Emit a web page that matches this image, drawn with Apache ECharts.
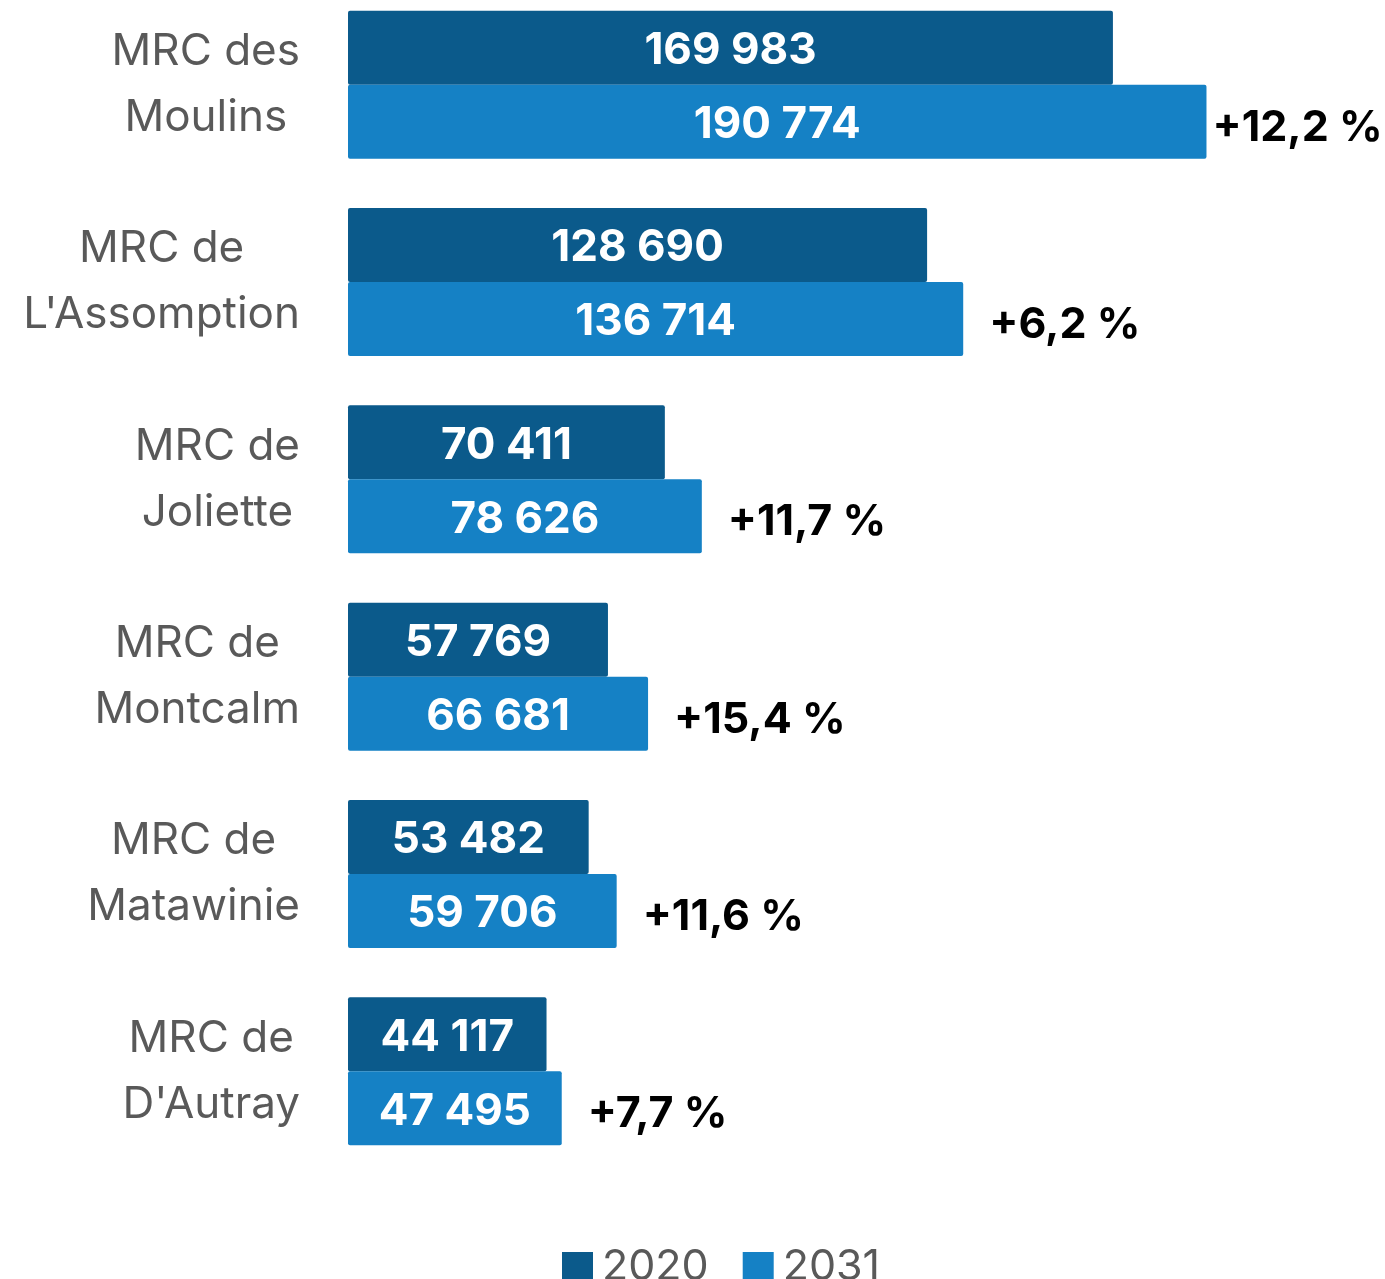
<!DOCTYPE html>
<html>
<head>
<meta charset="utf-8">
<script src="https://cdn.jsdelivr.net/npm/echarts@6/dist/echarts.min.js"></script>
<style>
    html, body { margin: 0; padding: 0; background: #fff; }
    #bargraph { width: 1385px; height: 1279px; }
</style>
</head>
<body>
<div id="bargraph"></div>
<script>
let regions = ['MRC des\nMoulins', 'MRC de\nL\'Assomption', 'MRC de\nJoliette', 'MRC de\nMontcalm', 'MRC de\nMatawinie', 'MRC de\nD\'Autray'];
let pop_2020 = [169983, 128690, 70411, 57769, 53482, 44117];
let pop_2031 = [190774, 136714, 78626, 66681, 59706, 47495];
let growth_labels = ['+12,2 %', '+6,2 %', '+11,7 %', '+15,4 %', '+11,6 %', '+7,7 %'];

let dark_blue = '#0b5a8b';
let light_blue = '#1581c5';
let font = 'Inter, "Noto Sans", sans-serif';

function formatNumber(v) {
    return String(v).replace(/\B(?=(\d{3})+(?!\d))/g, ' ');
}

function drawBarGraph(){
    let my_chart = echarts.init(document.getElementById('bargraph'));

    let max_index = pop_2031.indexOf(Math.max.apply(null, pop_2031));

    let value_label = {
        show: true,
        position: 'inside',
        offset: [0, 3],
        color: '#fff',
        fontFamily: font,
        fontWeight: 'bold',
        fontSize: 44,
        formatter: function(p){ return formatNumber(p.value); }
    };

    let option = {
        animation: false,
        grid: {
            left: 348,
            top: -14,
            width: 900,
            height: 1184,
            outerBoundsMode: 'none'
        },
        legend: {
            data: ['2020', '2031'],
            left: 557,
            top: 1241,
            itemWidth: 31,
            itemHeight: 31,
            itemGap: 34,
            icon: 'rect',
            textStyle: {
                fontFamily: font,
                fontSize: 43,
                color: '#595959',
                padding: [0, 0, 0, 4]
            }
        },
        xAxis: {
            type: 'value',
            min: 0,
            max: 200000,
            show: false
        },
        yAxis: {
            type: 'category',
            inverse: true,
            data: regions,
            axisLine: { show: false },
            axisTick: { show: false },
            axisLabel: {
                margin: 48,
                align: 'right',
                lineHeight: 66,
                formatter: function(v){
                    return v.split('\n').map(s => '{c|' + s + '}').join('\n');
                },
                rich: {
                    c: {
                        align: 'center',
                        fontFamily: font,
                        fontSize: 44,
                        lineHeight: 66,
                        color: '#595959'
                    }
                }
            }
        },
        series: [
            {
                name: '2020',
                type: 'bar',
                barWidth: 74,
                barGap: '0%',
                itemStyle: { color: dark_blue, borderRadius: 2 },
                label: value_label,
                data: pop_2020
            },
            {
                name: '2031',
                type: 'bar',
                stack: 'b',
                barWidth: 74,
                itemStyle: { color: light_blue, borderRadius: 2 },
                label: value_label,
                data: pop_2031
            },
            {
                name: 'growth',
                type: 'bar',
                stack: 'b',
                barWidth: 74,
                itemStyle: { color: 'transparent' },
                label: {
                    show: true,
                    position: 'right',
                    distance: 26,
                    offset: [0, 6],
                    color: '#000',
                    fontFamily: font,
                    fontWeight: 'bold',
                    fontSize: 43,
                    formatter: function(p){ return growth_labels[p.dataIndex]; }
                },
                data: growth_labels.map(function(g, i){
                    let item = { value: 0 };
                    if (i === max_index) item.label = { distance: 6 };
                    return item;
                })
            }
        ]
    };

    my_chart.setOption(option);
}

drawBarGraph();
</script>
</body>
</html>
